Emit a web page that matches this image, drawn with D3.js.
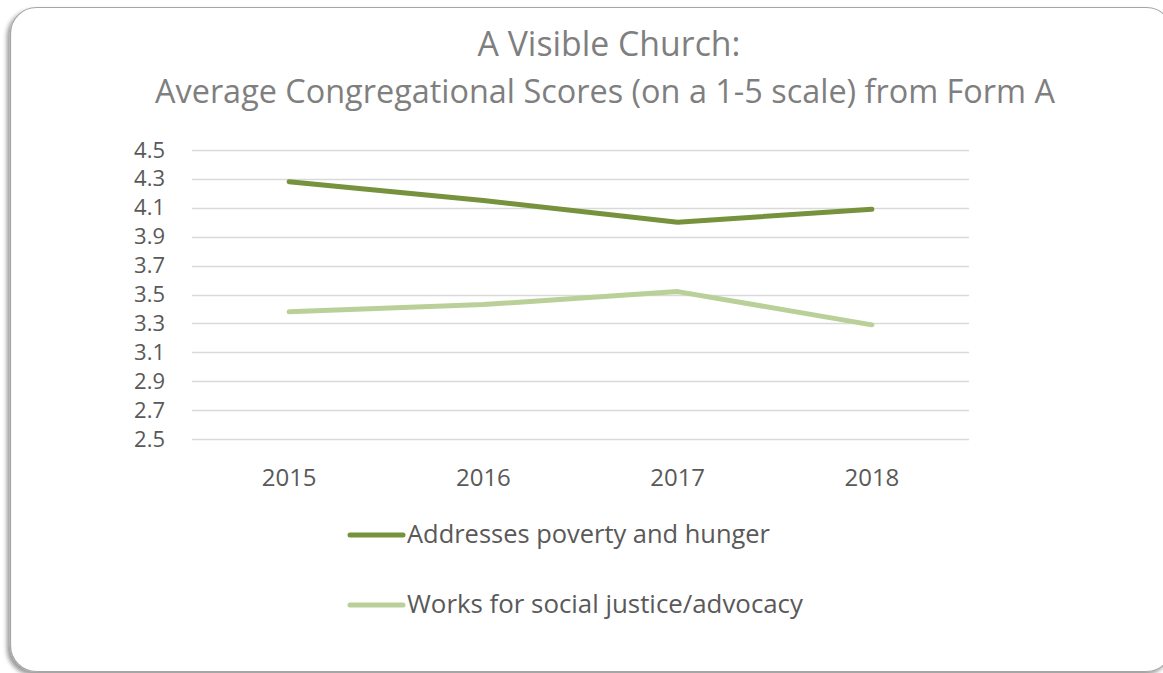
<!DOCTYPE html>
<html>
<head>
<meta charset="utf-8">
<script src="https://cdn.jsdelivr.net/npm/d3@7"></script>
<style>
  body { margin: 0; background: #fff; }
  text { font-family: "Open Sans", Lato, sans-serif; }
</style>
</head>
<body>
<div id="chart"></div>
<script>
// data
var years = ["2015", "2016", "2017", "2018"];
var poverty = [4.28, 4.15, 4.0, 4.09];
var justice = [3.38, 3.43, 3.52, 3.29];
var seriesNames = ["Addresses poverty and hunger", "Works for social justice/advocacy"];
var yTicks = [2.5, 2.7, 2.9, 3.1, 3.3, 3.5, 3.7, 3.9, 4.1, 4.3, 4.5];

var width = 1163;
var height = 673;
var colors = ["#76923c", "#b9d098"];

var svg = d3.select("#chart")
  .append("svg")
  .attr("width", width)
  .attr("height", height);

//shrink or grow a text's font so it spans the wanted width
function fitText(sel, target) {
  var size = parseFloat(sel.style("font-size"));
  var w = sel.node().getComputedTextLength();
  sel.style("font-size", (size * target / w).toFixed(2) + "px");
}

// drop shadow for the frame
var defs = svg.append("defs");
var shadow = defs.append("filter")
  .attr("id", "shadow")
  .attr("x", "-5%").attr("y", "-5%")
  .attr("width", "110%").attr("height", "110%");
shadow.append("feDropShadow")
  .attr("dx", -3).attr("dy", 3)
  .attr("stdDeviation", 2)
  .attr("flood-color", "#000")
  .attr("flood-opacity", 0.4);

svg.append("rect")
  .attr("x", 10.5)
  .attr("y", 7.5)
  .attr("width", 1162)
  .attr("height", 664)
  .attr("rx", 26)
  .attr("fill", "#fff")
  .attr("stroke", "#a6a6a6")
  .attr("stroke-width", 1.2)
  .attr("filter", "url(#shadow)");

// title
var t1 = svg.append("text")
  .attr("x", 609).attr("y", 56)
  .attr("text-anchor", "middle")
  .attr("fill", "#7f7f7f")
  .style("font-size", "30px")
  .text("A Visible Church:");
fitText(t1, 263);
var t2 = svg.append("text")
  .attr("x", 605).attr("y", 103)
  .attr("text-anchor", "middle")
  .attr("fill", "#7f7f7f")
  .style("font-size", "30px")
  .text("Average Congregational Scores (on a 1-5 scale) from Form A");
fitText(t2, 900);

// scales
var left = 192, right = 969;
var x = d3.scaleBand().domain(years).range([left, right]);
var y = d3.scaleLinear().domain([2.5, 4.5]).range([439, 150]);

// gridlines
svg.append("g")
  .selectAll("line")
  .data(yTicks)
  .enter()
  .append("line")
  .attr("x1", left)
  .attr("x2", right)
  .attr("y1", function(d) { return Math.round(y(d)) + 0.5; })
  .attr("y2", function(d) { return Math.round(y(d)) + 0.5; })
  .attr("stroke", "#d9d9d9")
  .attr("stroke-width", 1.5);

// y axis labels
var yAxis = d3.axisLeft(y)
  .tickValues(yTicks)
  .tickFormat(d3.format(".1f"))
  .tickSize(0)
  .tickPadding(27);
var yG = svg.append("g")
  .attr("transform", "translate(" + left + ",0)")
  .call(yAxis);
yG.select(".domain").remove();
yG.selectAll("text")
  .attr("fill", "#595959")
  .attr("dy", "0.32em")
  .style("font-size", "22px")
  .style("font-family", "'Open Sans', sans-serif");

// x axis labels
var xAxis = d3.axisBottom(x).tickSize(0).tickPadding(0);
var xG = svg.append("g")
  .attr("transform", "translate(0,439)")
  .call(xAxis);
xG.select(".domain").remove();
xG.selectAll("text")
  .attr("fill", "#595959")
  .attr("y", 47)
  .attr("dy", 0)
  .style("font-size", "24px")
  .style("font-family", "'Open Sans', sans-serif");

// lines
var line = d3.line()
  .x(function(d, i) { return x(years[i]) + x.bandwidth() / 2; })
  .y(function(d) { return y(d); });

[poverty, justice].forEach(function(vals, i) {
  svg.append("path")
    .datum(vals)
    .attr("d", line)
    .attr("fill", "none")
    .attr("stroke", colors[i])
    .attr("stroke-width", 5)
    .attr("stroke-linecap", "round")
    .attr("stroke-linejoin", "round");
});

// legend
var legend = svg.append("g");
var legendY = [535, 605];
var legendW = [363, 396];
seriesNames.forEach(function(name, i) {
  legend.append("line")
    .attr("x1", 350).attr("x2", 403)
    .attr("y1", legendY[i]).attr("y2", legendY[i])
    .attr("stroke", colors[i])
    .attr("stroke-width", 5)
    .attr("stroke-linecap", "round");
  var lt = legend.append("text")
    .attr("x", 407)
    .attr("y", legendY[i] + 8)
    .attr("fill", "#595959")
    .style("font-size", "23px")
    .text(name);
  fitText(lt, legendW[i]);
});
</script>
</body>
</html>
